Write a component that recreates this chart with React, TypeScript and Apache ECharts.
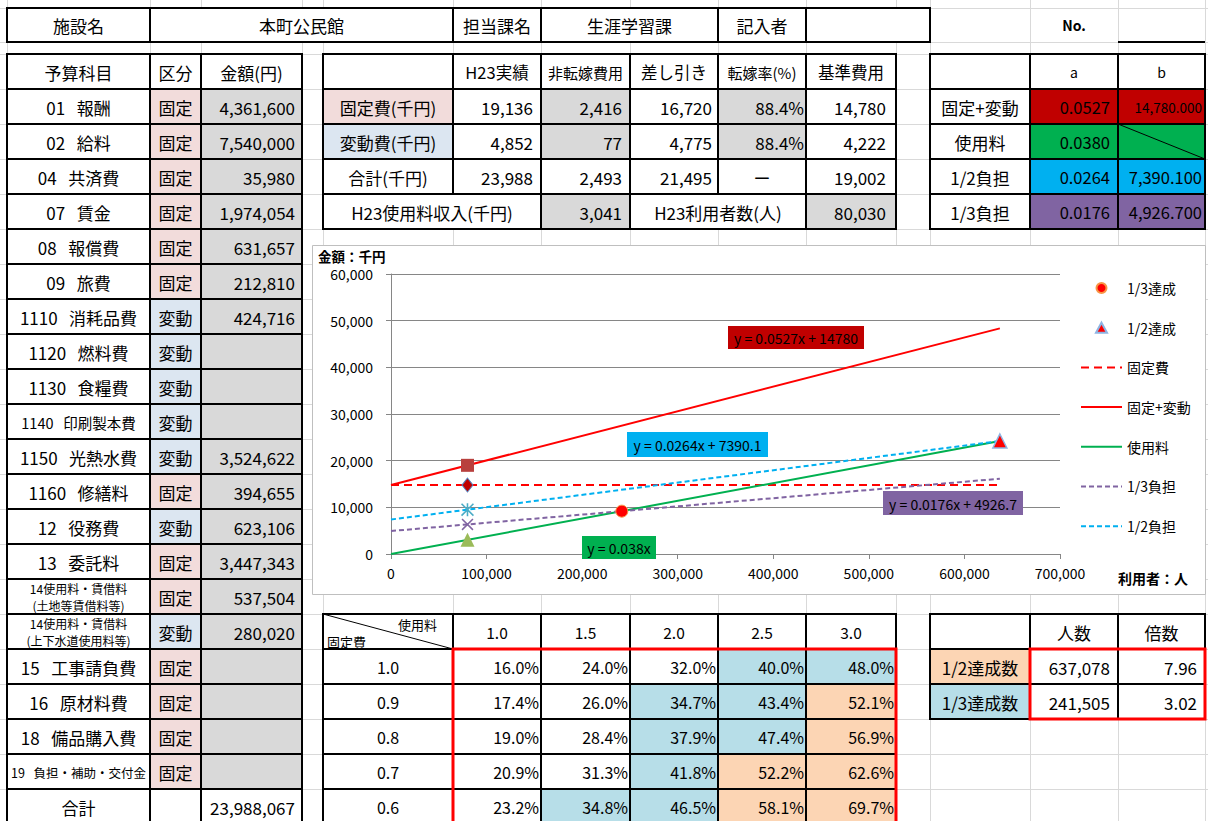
import React, { useEffect, useRef } from "react";
import * as echarts from "echarts";

const FONT = '"Noto Sans CJK JP", "Noto Sans", sans-serif';
const SP = "\u00A0\u00A0\u00A0";

// ---------------- data ----------------
const headerLabels = ["施設名", "本町公民館", "担当課名", "生涯学習課", "記入者", ""];

const budgetItems = [
  "01" + SP + "報酬", "02" + SP + "給料", "04" + SP + "共済費", "07" + SP + "賃金", "08" + SP + "報償費",
  "09" + SP + "旅費", "1110" + SP + "消耗品費", "1120" + SP + "燃料費", "1130" + SP + "食糧費",
  "1140" + SP + "印刷製本費", "1150" + SP + "光熱水費", "1160" + SP + "修繕料", "12" + SP + "役務費",
  "13" + SP + "委託料", "14使用料・賃借料\n(土地等賃借料等)", "14使用料・賃借料\n(上下水道使用料等)",
  "15" + SP + "工事請負費", "16" + SP + "原材料費", "18" + SP + "備品購入費", "19" + SP + "負担・補助・交付金",
];
const budgetTypes = [
  "固定", "固定", "固定", "固定", "固定", "固定", "変動", "変動", "変動", "変動", "変動",
  "固定", "変動", "固定", "固定", "変動", "固定", "固定", "固定", "固定",
];
const budgetAmounts: (number | null)[] = [
  4361600, 7540000, 35980, 1974054, 631657, 212810, 424716, null, null, null, 3524622,
  394655, 623106, 3447343, 537504, 280020, null, null, null, null,
];
const budgetTotal = 23988067;

const costHeaders = ["", "H23実績", "非転嫁費用", "差し引き", "転嫁率(%)", "基準費用"];
const costLabels = ["固定費(千円)", "変動費(千円)", "合計(千円)"];
const h23Actual = [19136, 4852, 23988];
const nonTransfer = [2416, 77, 2493];
const netCost = [16720, 4775, 21495];
const transferRate = ["88.4%", "88.4%", "ー"];
const baseCost = [14780, 4222, 19002];
const feeIncome = 3041;
const userCount = 80030;

const coefLabels = ["固定+変動", "使用料", "1/2負担", "1/3負担"];
const coefA = [0.0527, 0.038, 0.0264, 0.0176];
const coefB: (number | null)[] = [14780, null, 7390.1, 4926.7];

const feeMultipliers = [1.0, 1.5, 2.0, 2.5, 3.0];
const fixedRatios = [1.0, 0.9, 0.8, 0.7, 0.6];
const rates10 = [16.0, 24.0, 32.0, 40.0, 48.0];
const rates09 = [17.4, 26.0, 34.7, 43.4, 52.1];
const rates08 = [19.0, 28.4, 37.9, 47.4, 56.9];
const rates07 = [20.9, 31.3, 41.8, 52.2, 62.6];
const rates06 = [23.2, 34.8, 46.5, 58.1, 69.7];
const rateRows = [rates10, rates09, rates08, rates07, rates06];

const achieveLabels = ["1/2達成数", "1/3達成数"];
const achievePeople = [637078, 241505];
const achieveMultiple = [7.96, 3.02];

// chart data
const lineX = [0, 637078];
const fixedVarLine = [14780, 48354];
const fixedLine = [14780, 14780];
const feeLine = [0, 24209];
const thirdLine = [4927, 16139];
const halfLine = [7390, 24209];

const h23Users = 80030;
const h23Base = 19002;
const h23Fixed = 14780;
const h23Half = 9501;
const h23Third = 6334;
const h23Fee = 3041;
const thirdAchieved = [241505, 9177];
const halfAchieved = [637078, 24209];

const legendNames = ["1/3達成", "1/2達成", "固定費", "固定+変動", "使用料", "1/3負担", "1/2負担"];
const eqTexts = ["y = 0.0527x + 14780", "y = 0.0264x + 7390.1", "y = 0.0176x + 4926.7", "y = 0.038x"];

// ---------------- layout ----------------
const X = [7, 150, 201, 302, 323, 453, 541, 630, 718, 806, 896, 930, 1030, 1118, 1205];
const TOP0 = 8;
const TOP1 = 42;
const ry = (k: number) => 54 + 35 * k;

const PINK = "#F2DCDB";
const LBLUE = "#DCE6F1";
const GRAY = "#D9D9D9";
const CBLUE = "#B7DEE8";
const PEACH = "#FCD5B4";
const coefColors = ["#C00000", "#00B050", "#00B0F0", "#8064A2"];

const fmt = (n: number) => n.toLocaleString("en-US");

type Cell = {
  x0: number; x1: number; y0: number; y1: number;
  text?: string; fill?: string; align?: "left" | "center" | "right";
  size?: number; pad?: number;
};

function buildCells(): Cell[] {
  const cells: Cell[] = [];
  const add = (c0: number, c1: number, y0: number, y1: number, text = "", o: Partial<Cell> = {}) =>
    cells.push({ x0: X[c0], x1: X[c1], y0, y1, text, ...o });

  // top row
  add(0, 1, TOP0, TOP1, headerLabels[0]);
  add(1, 5, TOP0, TOP1, headerLabels[1]);
  add(5, 6, TOP0, TOP1, headerLabels[2]);
  add(6, 8, TOP0, TOP1, headerLabels[3]);
  add(8, 9, TOP0, TOP1, headerLabels[4]);
  add(9, 11, TOP0, TOP1, headerLabels[5]);

  // left budget table
  add(0, 1, ry(0), ry(1), "予算科目");
  add(1, 2, ry(0), ry(1), "区分");
  add(2, 3, ry(0), ry(1), "金額(円)");
  const itemSize = (i: number) => (i === 9 ? 14.5 : i === 14 || i === 15 ? 12 : i === 19 ? 12.5 : 17);
  budgetItems.forEach((name, i) => {
    const k = i + 1;
    add(0, 1, ry(k), ry(k + 1), name, { size: itemSize(i) });
    add(1, 2, ry(k), ry(k + 1), budgetTypes[i], { fill: budgetTypes[i] === "固定" ? PINK : LBLUE });
    const a = budgetAmounts[i];
    add(2, 3, ry(k), ry(k + 1), a == null ? "" : fmt(a), { fill: GRAY, align: "right", pad: 7 });
  });
  add(0, 1, ry(21), ry(22), "合計");
  add(1, 2, ry(21), ry(22), "");
  add(2, 3, ry(21), ry(22), fmt(budgetTotal), { align: "right", pad: 7 });

  // cost table
  costHeaders.forEach((h, j) =>
    add(4 + j, 5 + j, ry(0), ry(1), h, { size: j === 2 || j === 4 ? 15 : 16.5 })
  );
  costLabels.forEach((lab, i) => {
    const k = i + 1;
    add(4, 5, ry(k), ry(k + 1), lab, { fill: i === 0 ? PINK : i === 1 ? LBLUE : undefined });
    add(5, 6, ry(k), ry(k + 1), fmt(h23Actual[i]), { align: "right", pad: 8 });
    add(6, 7, ry(k), ry(k + 1), fmt(nonTransfer[i]), { align: "right", pad: 8, fill: i < 2 ? GRAY : undefined });
    add(7, 8, ry(k), ry(k + 1), fmt(netCost[i]), { align: "right", pad: 6 });
    const tr = transferRate[i];
    add(8, 9, ry(k), ry(k + 1), tr, tr.endsWith("%")
      ? { align: "right", pad: 2, fill: GRAY }
      : { align: "center" });
    add(9, 10, ry(k), ry(k + 1), fmt(baseCost[i]), { align: "right", pad: 10 });
  });
  add(4, 6, ry(4), ry(5), "H23使用料収入(千円)");
  add(6, 7, ry(4), ry(5), fmt(feeIncome), { align: "right", pad: 8, fill: GRAY });
  add(7, 9, ry(4), ry(5), "H23利用者数(人)");
  add(9, 10, ry(4), ry(5), fmt(userCount), { align: "right", pad: 10, fill: GRAY });

  // coefficient table
  add(11, 12, ry(0), ry(1), "");
  add(12, 13, ry(0), ry(1), "a", { size: 14 });
  add(13, 14, ry(0), ry(1), "b", { size: 14 });
  coefLabels.forEach((lab, i) => {
    const k = i + 1;
    add(11, 12, ry(k), ry(k + 1), lab);
    add(12, 13, ry(k), ry(k + 1), coefA[i].toFixed(4), { align: "right", pad: 8, fill: coefColors[i], size: 16.5 });
    const b = coefB[i];
    add(13, 14, ry(k), ry(k + 1),
      b == null ? "" : b.toLocaleString("en-US", { minimumFractionDigits: 3, maximumFractionDigits: 3 }),
      { align: "right", pad: 3, fill: coefColors[i], size: i === 0 ? 13.5 : 16.5 });
  });

  // sensitivity table
  add(4, 5, ry(16), ry(17), "");
  feeMultipliers.forEach((m, j) => add(5 + j, 6 + j, ry(16), ry(17), m.toFixed(1), { size: 15.5 }));
  fixedRatios.forEach((r, i) => {
    const k = 17 + i;
    add(4, 5, ry(k), ry(k + 1), r.toFixed(1), { size: 16 });
    rateRows[i].forEach((v, j) => {
      const fill = v >= 50 ? PEACH : v >= 33.3 ? CBLUE : undefined;
      add(5 + j, 6 + j, ry(k), ry(k + 1), v.toFixed(1) + "%", { align: "right", pad: 2, fill, size: 16 });
    });
  });

  // achievement table
  add(11, 12, ry(16), ry(17), "");
  add(12, 13, ry(16), ry(17), "人数");
  add(13, 14, ry(16), ry(17), "倍数");
  achieveLabels.forEach((lab, i) => {
    const k = 17 + i;
    add(11, 12, ry(k), ry(k + 1), lab, { fill: i === 0 ? PEACH : CBLUE });
    add(12, 13, ry(k), ry(k + 1), fmt(achievePeople[i]), { align: "right", pad: 8 });
    add(13, 14, ry(k), ry(k + 1), achieveMultiple[i].toFixed(2), { align: "right", pad: 8 });
  });
  return cells;
}

function textEl(x: number, y: number, text: string, o: any = {}) {
  const align = o.align || "center";
  return {
    type: "text",
    x, y, z: o.z ?? 0, silent: true,
    style: {
      text,
      fill: o.color || "#000",
      fontSize: o.size || 17,
      fontFamily: FONT,
      fontWeight: o.weight || "normal",
      textAlign: align,
      align,
      textVerticalAlign: "middle",
      verticalAlign: "middle",
    },
  };
}

function buildGraphic() {
  const els: any[] = [];
  const GL = "#D9D9D9";
  // spreadsheet gridlines
  X.forEach((x) =>
    els.push({ type: "line", z: 0, silent: true, shape: { x1: x + 0.5, y1: 0, x2: x + 0.5, y2: 821 }, style: { stroke: GL, lineWidth: 1 } })
  );
  const hy = [TOP0, TOP1];
  for (let k = 0; k <= 22; k++) hy.push(ry(k));
  hy.forEach((y) =>
    els.push({ type: "line", z: 0, silent: true, shape: { x1: 0, y1: y + 0.5, x2: 1208, y2: y + 0.5 }, style: { stroke: GL, lineWidth: 1 } })
  );

  const cells = buildCells();
  cells.forEach((c) =>
    els.push({ type: "rect", z: 0, silent: true, shape: { x: c.x0, y: c.y0, width: c.x1 - c.x0, height: c.y1 - c.y0 }, style: { fill: c.fill || "#FFFFFF" } })
  );
  cells.forEach((c) =>
    els.push({ type: "rect", z: 0, silent: true, shape: { x: c.x0, y: c.y0, width: c.x1 - c.x0, height: c.y1 - c.y0 }, style: { fill: "none", stroke: "#000", lineWidth: 2 } })
  );
  cells.forEach((c) => {
    if (!c.text) return;
    const align = c.align || "center";
    const pad = c.pad ?? 4;
    const x = align === "center" ? (c.x0 + c.x1) / 2 : align === "right" ? c.x1 - pad : c.x0 + pad;
    const lines = c.text.split("\n");
    const cy = (c.y0 + c.y1) / 2 + 0.5;
    const step = 17.5;
    lines.forEach((ln, li) => {
      const y = cy + (li - (lines.length - 1) / 2) * step;
      els.push(textEl(x, y, ln, { align, size: c.size }));
    });
  });

  // diagonal in 使用料 b cell
  els.push({ type: "line", z: 0, silent: true, shape: { x1: X[13], y1: ry(2), x2: X[14], y2: ry(3) }, style: { stroke: "#000", lineWidth: 1 } });
  // diagonal header of sensitivity table
  els.push({ type: "line", z: 0, silent: true, shape: { x1: X[4], y1: ry(16), x2: X[5], y2: ry(17) }, style: { stroke: "#000", lineWidth: 1 } });
  els.push(textEl(X[5] - 16, ry(16) + 10, "使用料", { align: "right", size: 13 }));
  els.push(textEl(X[4] + 4, ry(16) + 27, "固定費", { align: "left", size: 13 }));

  // red highlight frames
  els.push({ type: "rect", z: 0, silent: true, shape: { x: X[5], y: ry(17), width: X[10] - X[5], height: 200 }, style: { fill: "none", stroke: "#FF0000", lineWidth: 3 } });
  els.push({ type: "rect", z: 0, silent: true, shape: { x: X[12], y: ry(17), width: X[14] - X[12], height: ry(19) - ry(17) }, style: { fill: "none", stroke: "#FF0000", lineWidth: 3 } });

  // No. cell
  els.push(textEl((X[12] + X[13]) / 2, (TOP0 + TOP1) / 2, "No.", { size: 14, weight: "bold" }));
  els.push({ type: "line", z: 0, silent: true, shape: { x1: X[13], y1: TOP1, x2: X[14], y2: TOP1 }, style: { stroke: "#000", lineWidth: 2 } });

  // chart frame
  els.push({ type: "rect", z: 1, silent: true, shape: { x: 312.5, y: 245.5, width: 893, height: 349 }, style: { fill: "#FFFFFF", stroke: "#BFBFBF", lineWidth: 1 } });
  els.push(textEl(318, 256, "金額：千円", { align: "left", size: 13.5, weight: "bold", z: 2 }));
  els.push(textEl(1118, 578, "利用者：人", { align: "left", size: 14, weight: "bold", z: 2 }));

  // trendline equation labels
  const eqBoxes = [
    { x: 728, y: 326, w: 136, h: 23, c: "#C00000" },
    { x: 627, y: 432, w: 141, h: 25, c: "#00B0F0" },
    { x: 883, y: 491, w: 140, h: 24, c: "#8064A2" },
    { x: 582, y: 536, w: 74, h: 23, c: "#00B050" },
  ];
  eqBoxes.forEach((b, i) => {
    els.push({ type: "rect", z: 10, silent: true, shape: { x: b.x, y: b.y, width: b.w, height: b.h }, style: { fill: b.c } });
    els.push(textEl(b.x + b.w / 2, b.y + b.h / 2 + 0.5, eqTexts[i], { size: 14, z: 11 }));
  });
  return els;
}

const ASTERISK = "path://M4.4,0 L5.6,0 L5.6,10 L4.4,10 Z M0,0.85 L0.85,0 L10,9.15 L9.15,10 Z M9.15,0 L10,0.85 L0.85,10 L0,9.15 Z";
const XMARK = "path://M0,0.9 L0.9,0 L10,9.1 L9.1,10 Z M9.1,0 L10,0.9 L0.9,10 L0,9.1 Z";
// legend icons: a small mark centred in a 41x12 box (move-to points fix the bounds)
const LEGEND_TRI = "path://M0,0 M41,12 M20.5,1 L26,11 L15,11 Z";
const LEGEND_DOT = "path://M0,0 M41,12 M25.5,6 A5,5 0 1 1 15.5,6 A5,5 0 1 1 25.5,6 Z";

function buildOption(): any {
  const pair = (ys: number[]) => lineX.map((x, i) => [x, ys[i]]);
  const axisColor = "#868686";
  const lineSeries = (name: string, ys: number[], color: string, type: any) => ({
    name, type: "line", data: pair(ys), symbol: "none", z: 4, silent: true,
    lineStyle: { color, width: 2, type },
    itemStyle: { color },
  });
  const pt = (name: string, x: number, y: number, symbol: string, size: any, color: string, border?: string, bw = 0) => ({
    name, type: "scatter", data: [[x, y]], symbol, symbolSize: size, z: 6, silent: true,
    itemStyle: { color, borderColor: border, borderWidth: bw, opacity: 1 },
  });
  const legendData = legendNames.map((n, i) =>
    i === 0 ? { name: n, icon: LEGEND_DOT }
      : i === 1 ? { name: n, icon: LEGEND_TRI }
        : { name: n, itemStyle: { opacity: 0 } }
  );
  return {
    animation: false,
    backgroundColor: "#FFFFFF",
    textStyle: { fontFamily: FONT },
    grid: { left: 391, right: 148, top: 274, bottom: 267, z: 3 },
    xAxis: {
      type: "value", min: 0, max: 700000, interval: 100000, z: 3,
      axisLine: { show: true, lineStyle: { color: axisColor, width: 1 } },
      axisTick: { show: true, length: 5, lineStyle: { color: axisColor } },
      axisLabel: { formatter: (v: number) => fmt(v), fontSize: 14, color: "#000", margin: 12, fontFamily: FONT },
      splitLine: { show: false },
    },
    yAxis: {
      type: "value", min: 0, max: 60000, interval: 10000, z: 3,
      axisLine: { show: true, lineStyle: { color: axisColor, width: 1 } },
      axisTick: { show: true, length: 5, lineStyle: { color: axisColor } },
      axisLabel: { formatter: (v: number) => fmt(v), fontSize: 14, color: "#000", margin: 18, fontFamily: FONT },
      splitLine: { show: true, lineStyle: { color: axisColor, width: 1 } },
    },
    legend: {
      orient: "vertical", left: 1080, top: 281, padding: 0, itemWidth: 41, itemHeight: 12, itemGap: 25.7,
      data: legendData, selectedMode: false, z: 5,
      textStyle: { fontSize: 14, color: "#000", fontFamily: FONT },
    },
    graphic: buildGraphic(),
    series: [
      lineSeries("固定費", fixedLine, "#FF0000", [8, 5]),
      lineSeries("固定+変動", fixedVarLine, "#FF0000", "solid"),
      lineSeries("使用料", feeLine, "#00B050", "solid"),
      lineSeries("1/3負担", thirdLine, "#8064A2", [5, 3]),
      lineSeries("1/2負担", halfLine, "#00B0F0", [5, 3]),
      pt("基準費用", h23Users, h23Base, "rect", 13, "#B8403E"),
      pt("固定費実績", h23Users, h23Fixed, "diamond", [11, 14], "#C00000", "#4F81BD", 1),
      pt("1/2負担実績", h23Users, h23Half, ASTERISK, 13, "#4BACC6"),
      pt("1/3負担実績", h23Users, h23Third, XMARK, 12, "#8064A2"),
      pt("使用料実績", h23Users, h23Fee, "triangle", 14, "#9BBB59"),
      pt("1/3達成", thirdAchieved[0], thirdAchieved[1], "circle", 12, "#FF0000", "#F79646", 1),
      pt("1/2達成", halfAchieved[0], halfAchieved[1], "triangle", 14, "#FF0000", "#8EB4E3", 1.5),
    ],
  };
}

export default function App() {
  const ref = useRef<HTMLDivElement>(null);
  useEffect(() => {
    if (!ref.current) return;
    const chart = echarts.init(ref.current, undefined, { renderer: "svg" });
    chart.setOption(buildOption());
    return () => chart.dispose();
  }, []);
  return (
    <div
      ref={ref}
      style={{ position: "absolute", left: 0, top: 0, width: 1208, height: 821, background: "#fff" }}
    />
  );
}
